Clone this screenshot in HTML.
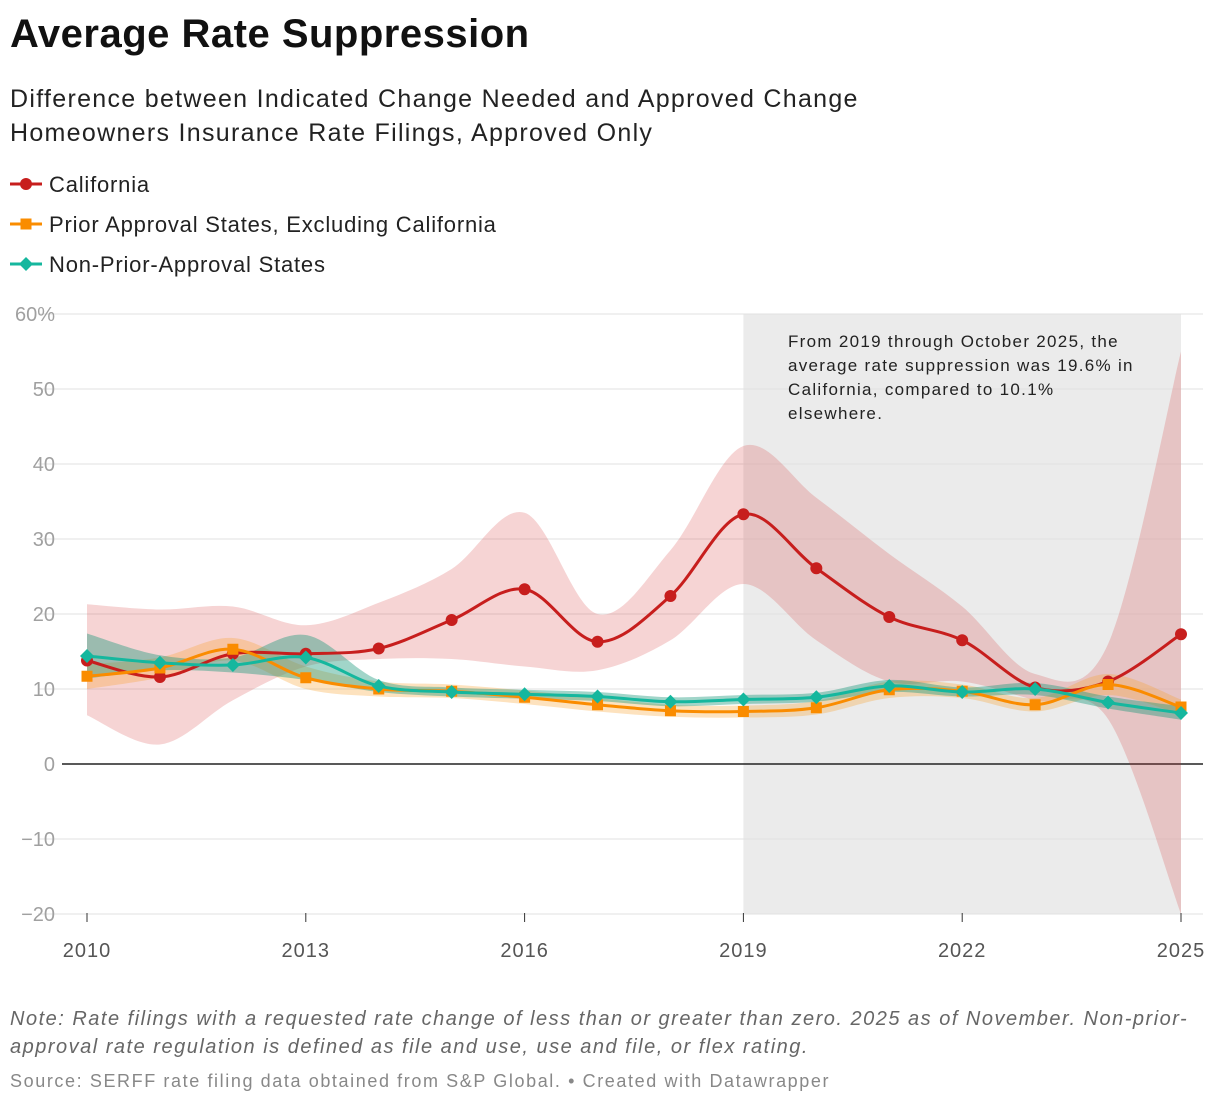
<!DOCTYPE html>
<html><head><meta charset="utf-8">
<style>
body{margin:0;background:#fff;font-family:"Liberation Sans",sans-serif;}
#wrap{position:relative;width:1220px;height:1108px;overflow:hidden;}
.t{position:absolute;left:10px;white-space:nowrap;}
</style></head>
<body><div id="wrap">
<div class="t" style="top:12px;font-size:40px;font-weight:bold;color:#111;letter-spacing:0.5px">Average Rate Suppression</div>
<div class="t" style="top:82px;font-size:25px;line-height:34px;color:#222;letter-spacing:1.3px">Difference between Indicated Change Needed and Approved Change<br>Homeowners Insurance Rate Filings, Approved Only</div>
<svg id="chart" width="1220" height="1108" style="position:absolute;left:0;top:0"></svg>
<div class="t" style="top:1005px;font-size:20px;line-height:28px;font-style:italic;color:#666;letter-spacing:1.5px">Note: Rate filings with a requested rate change of less than or greater than zero. 2025 as of November. Non-prior-<br>approval rate regulation is defined as file and use, use and file, or flex rating.</div>
<div class="t" style="top:1071px;font-size:18px;color:#888;letter-spacing:1.6px">Source: SERFF rate filing data obtained from S&amp;P Global. • Created with Datawrapper</div>
</div>
<script>
const years=[2010,2011,2012,2013,2014,2015,2016,2017,2018,2019,2020,2021,2022,2023,2024,2025];
const caValues=[13.8,11.6,14.7,14.7,15.4,19.2,23.3,16.3,22.4,33.3,26.1,19.6,16.5,10.2,11.0,17.3];
const caLow=[6.5,2.6,8.5,13,14,14,13,12.5,16.5,24,16.5,11,11,8.5,6,-20];
const caHigh=[21.3,20.6,21,18.5,21.5,26,33.5,20,28.5,42.4,35.5,28,21,12,16,55];
const priorValues=[11.7,12.8,15.3,11.5,10.0,9.7,8.9,7.9,7.1,7.0,7.5,9.9,9.7,7.9,10.6,7.6];
const priorLow=[10,11.5,13.8,10,9,8.8,8,7,6.3,6.2,6.6,8.8,8.8,7,9.2,6.6];
const priorHigh=[13.3,14.2,16.8,13,11,10.6,9.8,8.8,7.9,7.8,8.4,11,10.6,8.8,12,8.6];
const npValues=[14.4,13.5,13.2,14.2,10.4,9.6,9.3,9.0,8.3,8.6,8.9,10.4,9.6,10.0,8.2,6.8];
const npLow=[11.4,12.5,12.2,11.2,9.6,9.0,8.7,8.4,7.7,8.0,8.3,9.6,9.0,9.2,7.4,5.9];
const npHigh=[17.4,14.5,14.2,17.2,11.2,10.2,9.9,9.6,8.9,9.2,9.5,11.2,10.2,10.8,9.0,7.7];
const yTicks=[60,50,40,30,20,10,0,-10,-20];
const yTickLabels=["60%","50","40","30","20","10","0","−10","−20"];
const xTicks=[2010,2013,2016,2019,2022,2025];
const annotation=["From 2019 through October 2025, the","average rate suppression was 19.6% in","California, compared to 10.1%","elsewhere."];

const X=y=>87+(y-2010)*(1181-87)/15;
const Y=v=>764-v*7.5;
const svg=document.getElementById('chart');
const NS='http://www.w3.org/2000/svg';
function mk(tag,attrs,parent){const e=document.createElementNS(NS,tag);for(const k in attrs)e.setAttribute(k,attrs[k]);(parent||svg).appendChild(e);return e;}
function spline(pts){let d='M'+pts[0][0]+','+pts[0][1];
for(let i=0;i<pts.length-1;i++){const p0=pts[Math.max(i-1,0)],p1=pts[i],p2=pts[i+1],p3=pts[Math.min(i+2,pts.length-1)];
const c1=[p1[0]+(p2[0]-p0[0])/6,p1[1]+(p2[1]-p0[1])/6],c2=[p2[0]-(p3[0]-p1[0])/6,p2[1]-(p3[1]-p1[1])/6];
d+=`C${c1[0]},${c1[1]} ${c2[0]},${c2[1]} ${p2[0]},${p2[1]}`;}return d;}
function bandPath(lo,hi){const up=years.map((y,i)=>[X(y),Y(hi[i])]);const dn=years.map((y,i)=>[X(y),Y(lo[i])]).reverse();
return spline(up)+'L'+dn[0][0]+','+dn[0][1]+spline(dn).replace(/^M[^C]*/,'')+'Z';}

const sh=mk('rect',{x:X(2019),y:Y(60),width:X(2025)-X(2019),height:Y(-20)-Y(60),fill:'#ebebeb'});


yTicks.forEach((t,i)=>{
 const g=mk('line',{x1:t===0?62:38,x2:1203,y1:Y(t),y2:Y(t),stroke:t===0?'#222':'#e2e2e2','stroke-width':t===0?1.5:1});
 
 
 const l=mk('text',{x:55,y:Y(t)+7,'text-anchor':'end','font-size':20,fill:'#a0a0a0'});
 l.textContent=yTickLabels[i];
 
 
});
xTicks.forEach(t=>{
 const tk=mk('line',{x1:X(t),x2:X(t),y1:913,y2:922,stroke:'#333','stroke-width':1});
 
 
 const l=mk('text',{x:X(t),y:957,'text-anchor':'middle','font-size':20,fill:'#555','letter-spacing':1});
 l.textContent=t;
 
 
});
annotation.forEach((s,i)=>{const a=mk('text',{x:788,y:347+i*24,'font-size':17,fill:'#222','letter-spacing':1.3});a.textContent=s;
 
 });

const series=[
 {name:'california',vals:caValues,lo:caLow,hi:caHigh,color:'#c71e1d',band:'rgba(214,60,60,0.22)',m:'circle'},
 {name:'prior-approval',vals:priorValues,lo:priorLow,hi:priorHigh,color:'#fa8c00',band:'rgba(250,160,40,0.3)',m:'square'},
 {name:'non-prior-approval',vals:npValues,lo:npLow,hi:npHigh,color:'#15b79e',band:'rgba(21,150,120,0.4)',m:'diamond'}];
series.forEach(s=>{const b=mk('path',{d:bandPath(s.lo,s.hi),fill:s.band});
 
 });
series.forEach(s=>{
 const pts=years.map((y,i)=>[X(y),Y(s.vals[i])]);
 const l=mk('path',{d:spline(pts),fill:'none',stroke:s.color,'stroke-width':3});
 
 
 pts.forEach(p=>{let e;
  if(s.m==='circle')e=mk('circle',{cx:p[0],cy:p[1],r:6,fill:s.color});
  else if(s.m==='square')e=mk('rect',{x:p[0]-5.5,y:p[1]-5.5,width:11,height:11,fill:s.color});
  else e=mk('path',{d:`M${p[0]},${p[1]-7}L${p[0]+7},${p[1]}L${p[0]},${p[1]+7}L${p[0]-7},${p[1]}Z`,fill:s.color});
  
  });
});
const legendNames=['California','Prior Approval States, Excluding California','Non-Prior-Approval States'];
series.forEach((s,i)=>{const y=184+i*40;
 const g=mk('g',{});
 
 
 mk('line',{x1:10,x2:42,y1:y,y2:y,stroke:s.color,'stroke-width':3},g);
 if(s.m==='circle')mk('circle',{cx:26,cy:y,r:6,fill:s.color},g);
 else if(s.m==='square')mk('rect',{x:20.5,y:y-5.5,width:11,height:11,fill:s.color},g);
 else mk('path',{d:`M26,${y-7}L33,${y}L26,${y+7}L19,${y}Z`,fill:s.color},g);
 const t=mk('text',{x:49,y:y+8,'font-size':22,fill:'#222','letter-spacing':0.8},g);t.textContent=legendNames[i];});
</script>
</body></html>
